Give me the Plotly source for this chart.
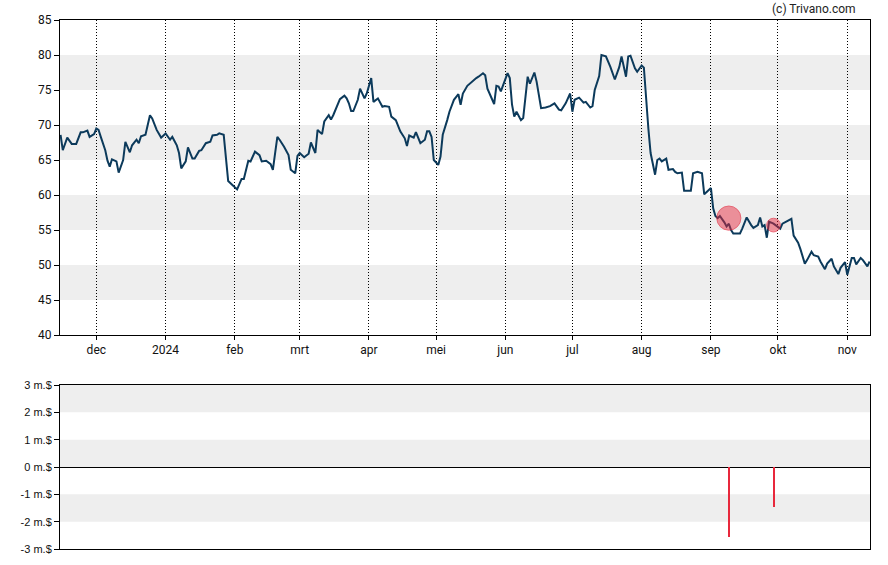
import plotly.graph_objects as go

# ---------------- data ----------------
dates = [
    "2023-11-15", "2023-11-16", "2023-11-18", "2023-11-20", "2023-11-22", "2023-11-24", "2023-11-25", "2023-11-27", "2023-11-28", "2023-11-30",
    "2023-12-01", "2023-12-02", "2023-12-03", "2023-12-05", "2023-12-06", "2023-12-07", "2023-12-08", "2023-12-10", "2023-12-11", "2023-12-13",
    "2023-12-14", "2023-12-16", "2023-12-17", "2023-12-19", "2023-12-20", "2023-12-21", "2023-12-23", "2023-12-24", "2023-12-25", "2023-12-26",
    "2023-12-28", "2023-12-30",
    "2024-01-01", "2024-01-03", "2024-01-04", "2024-01-06", "2024-01-07", "2024-01-08", "2024-01-10", "2024-01-11", "2024-01-13", "2024-01-14",
    "2024-01-16", "2024-01-17", "2024-01-19", "2024-01-21", "2024-01-22", "2024-01-24", "2024-01-25", "2024-01-27", "2024-01-28", "2024-01-29",
    "2024-01-31",
    "2024-02-02", "2024-02-04", "2024-02-05", "2024-02-07", "2024-02-08", "2024-02-10", "2024-02-12", "2024-02-13", "2024-02-15", "2024-02-17",
    "2024-02-18", "2024-02-19", "2024-02-20", "2024-02-21", "2024-02-23", "2024-02-25", "2024-02-26", "2024-02-28", "2024-02-29",
    "2024-03-01", "2024-03-03", "2024-03-05", "2024-03-06", "2024-03-08", "2024-03-09", "2024-03-11", "2024-03-12", "2024-03-14", "2024-03-15",
    "2024-03-16", "2024-03-18", "2024-03-19", "2024-03-21", "2024-03-22", "2024-03-23", "2024-03-24", "2024-03-25", "2024-03-27", "2024-03-28",
    "2024-03-30", "2024-03-31",
    "2024-04-02", "2024-04-03", "2024-04-05", "2024-04-07", "2024-04-08", "2024-04-10", "2024-04-11", "2024-04-13", "2024-04-14", "2024-04-15",
    "2024-04-17", "2024-04-18", "2024-04-19", "2024-04-21", "2024-04-22", "2024-04-24", "2024-04-26", "2024-04-27", "2024-04-28", "2024-04-29",
    "2024-04-30",
    "2024-05-02", "2024-05-03", "2024-05-04", "2024-05-06", "2024-05-07", "2024-05-09", "2024-05-11", "2024-05-12", "2024-05-13", "2024-05-15",
    "2024-05-16", "2024-05-18", "2024-05-19", "2024-05-20", "2024-05-22", "2024-05-23", "2024-05-24", "2024-05-27", "2024-05-28", "2024-05-29",
    "2024-05-30",
    "2024-06-02", "2024-06-03", "2024-06-04", "2024-06-05", "2024-06-06", "2024-06-07", "2024-06-08", "2024-06-09", "2024-06-11", "2024-06-12",
    "2024-06-14", "2024-06-15", "2024-06-17", "2024-06-19", "2024-06-21", "2024-06-23", "2024-06-25", "2024-06-26", "2024-06-28", "2024-06-30",
    "2024-07-01", "2024-07-02", "2024-07-04", "2024-07-06", "2024-07-07", "2024-07-09", "2024-07-10", "2024-07-11", "2024-07-13", "2024-07-14",
    "2024-07-16", "2024-07-18", "2024-07-20", "2024-07-22", "2024-07-23", "2024-07-25", "2024-07-26", "2024-07-27", "2024-07-29", "2024-07-30",
    "2024-08-01", "2024-08-02", "2024-08-03", "2024-08-04", "2024-08-05", "2024-08-06", "2024-08-07", "2024-08-08", "2024-08-09", "2024-08-10",
    "2024-08-12", "2024-08-13", "2024-08-15", "2024-08-16", "2024-08-17", "2024-08-19", "2024-08-20", "2024-08-23", "2024-08-24", "2024-08-26",
    "2024-08-28", "2024-08-29", "2024-08-31",
    "2024-09-01", "2024-09-02", "2024-09-03", "2024-09-04", "2024-09-05", "2024-09-07", "2024-09-08", "2024-09-09", "2024-09-10", "2024-09-11",
    "2024-09-14", "2024-09-15", "2024-09-17", "2024-09-19", "2024-09-20", "2024-09-22", "2024-09-23", "2024-09-24", "2024-09-25", "2024-09-26",
    "2024-09-27", "2024-09-29", "2024-09-30",
    "2024-10-02", "2024-10-03", "2024-10-05", "2024-10-07", "2024-10-08", "2024-10-10", "2024-10-11", "2024-10-13", "2024-10-14", "2024-10-16",
    "2024-10-17", "2024-10-19", "2024-10-20", "2024-10-22", "2024-10-23", "2024-10-25", "2024-10-26", "2024-10-28", "2024-10-29", "2024-10-31",
    "2024-11-01", "2024-11-02", "2024-11-03", "2024-11-04", "2024-11-05", "2024-11-07", "2024-11-08", "2024-11-10", "2024-11-11",
]

prices = [
    68.6, 66.4, 68.2, 67.3, 67.3, 68.95, 68.95, 69.2, 68.3, 68.7,
    69.5, 69.3, 68.3, 66.4, 64.9, 64.05, 65.1, 64.8, 63.2, 65.0,
    67.6, 66.1, 67.1, 67.9, 67.4, 68.4, 68.6, 70.2, 71.4, 70.95,
    69.3, 68.2, 68.8, 67.9, 68.3, 67.1, 66.0, 63.8, 64.8, 66.8,
    65.2, 65.2, 66.3, 66.4, 67.4, 67.6, 68.5, 68.6, 68.8, 68.6,
    65.0, 62.0, 61.4, 60.8, 62.3, 62.3, 64.9, 64.8, 66.2, 65.7,
    64.8, 64.9, 64.4, 63.6, 66.0, 68.3, 67.9, 66.9, 65.7, 63.6,
    63.1, 65.6, 66.0, 65.4, 65.9, 67.5, 66.0, 69.3, 68.7, 70.5,
    71.4, 70.8,
    71.4, 73.1, 73.7, 74.2, 73.8, 73.1, 72.0, 72.0, 73.6, 75.2,
    73.8, 74.5, 76.7, 73.3, 73.8, 72.6, 72.7, 72.6, 71.2, 70.7,
    69.8, 69.1, 68.1, 67.0, 68.5, 68.2, 69.0, 67.4, 67.9, 69.1,
    69.1, 68.3, 65.0, 64.3, 65.5, 68.6, 70.7, 71.9, 73.6, 74.4,
    72.9, 74.5, 75.6, 75.9, 76.5, 76.7, 76.9, 77.4, 77.1, 75.2,
    73.0, 75.6, 75.5, 74.8, 77.4, 76.7, 72.9, 71.2, 71.9, 71.2,
    70.7, 71.0, 76.9, 75.9, 77.5, 76.2, 72.4, 72.5, 72.7, 73.1,
    72.2, 72.1, 73.1, 74.5, 71.9, 73.6, 73.9, 73.2, 73.3, 72.5,
    72.7, 75.0, 77.0,
    80.0, 79.8, 78.3, 76.5, 78.3, 79.8, 76.9, 79.8, 79.9, 78.1,
    77.6, 78.5, 78.2, 73.6, 69.5, 66.0, 64.3, 62.9, 65.0, 65.2,
    64.8, 65.2, 63.6, 63.7, 63.3, 63.1, 63.2, 60.6, 60.6, 63.1,
    63.3, 63.1, 60.1, 60.7, 61.0, 58.1, 57.0, 56.7, 57.0, 56.1,
    55.5, 55.9, 55.0, 54.5, 54.5, 55.2, 56.8, 55.7, 55.3, 55.7,
    56.8, 55.5, 55.7, 53.9, 56.2, 55.9, 55.7, 55.2, 55.9, 56.3,
    56.6, 54.2, 53.2, 52.3, 50.2, 50.7, 51.9, 51.4, 51.2, 50.5,
    49.4, 50.2, 50.9, 49.8, 48.7, 49.6, 50.4, 48.6, 49.8, 51.0,
    51.0, 50.1, 51.0, 50.7, 49.8, 50.5,
]

# insider transactions (sales, in million $)
trade_dates = ["2024-09-09", "2024-09-29"]
trade_prices = [56.7, 55.7]
trade_values = [-2.57, -1.46]

month_ticks = ["2023-12-01", "2024-01-01", "2024-02-01", "2024-03-01", "2024-04-01", "2024-05-01",
               "2024-06-01", "2024-07-01", "2024-08-01", "2024-09-01", "2024-10-01", "2024-11-01"]
month_labels = ["dec", "2024", "feb", "mrt", "apr", "mei", "jun", "jul", "aug", "sep", "okt", "nov"]

price_ticks = [40, 45, 50, 55, 60, 65, 70, 75, 80, 85]
flow_ticks = [-3, -2, -1, 0, 1, 2, 3]
flow_labels = ["-3 m.$", "-2 m.$", "-1 m.$", "0 m.$", "1 m.$", "2 m.$", "3 m.$"]

price_bands = [(45, 50), (55, 60), (65, 70), (75, 80)]
flow_bands = [(2, 3), (0, 1), (-2, -1)]

# ---------------- figure ----------------
LINE = "#0c3a5b"
RED = "#e8283c"
BAND = "#eeeeee"

fig = go.Figure()

fig.add_trace(go.Scatter(
    x=dates, y=prices, mode="lines",
    line=dict(color=LINE, width=2),
    xaxis="x", yaxis="y", hoverinfo="skip",
))

fig.add_trace(go.Scatter(
    x=trade_dates, y=trade_prices, mode="markers",
    marker=dict(size=[9.4 * abs(v) for v in trade_values],
                color="rgba(232,40,60,0.68)",
                line=dict(color="rgba(226,36,56,0.9)", width=1)),
    xaxis="x", yaxis="y", hoverinfo="skip",
))

fig.add_trace(go.Bar(
    x=trade_dates, y=trade_values,
    marker=dict(color=RED, line=dict(width=0)),
    width=0.9 * 86400000,
    xaxis="x2", yaxis="y2", hoverinfo="skip",
))

shapes = []
for lo, hi in price_bands:
    shapes.append(dict(type="rect", xref="x domain", yref="y", x0=0, x1=1, y0=lo, y1=hi,
                       fillcolor=BAND, line=dict(width=0), layer="below"))
for lo, hi in flow_bands:
    shapes.append(dict(type="rect", xref="x2 domain", yref="y2", x0=0, x1=1, y0=lo, y1=hi,
                       fillcolor=BAND, line=dict(width=0), layer="below"))

top_font = dict(family="Roboto, Arial, sans-serif", size=12, color="#111111")
bottom_font = dict(family="Liberation Sans, Arial, sans-serif", size=11, color="#111111")

fig.update_layout(
    width=888, height=565,
    margin=dict(l=60, r=18, t=20, b=16, autoexpand=False),
    paper_bgcolor="white", plot_bgcolor="white",
    showlegend=False,
    hovermode=False,
    bargap=0,
    shapes=shapes,
    xaxis=dict(
        domain=[0, 1], anchor="y", type="date", automargin=False,
        range=["2023-11-14 18:00", "2024-11-11 04:00"],
        tickmode="array", tickvals=month_ticks, ticktext=month_labels,
        ticks="outside", ticklen=4, tickcolor="black", tickwidth=1,
        showline=True, linecolor="black", linewidth=1, mirror=True,
        showgrid=True, gridcolor="black", gridwidth=1, griddash="1px,2px",
        tickfont=top_font, zeroline=False,
    ),
    yaxis=dict(
        domain=[0.4045, 1], anchor="x", automargin=False,
        range=[40, 85], tickmode="array", tickvals=price_ticks,
        ticks="outside", ticklen=5, tickcolor="black",
        showline=True, linecolor="black", linewidth=1, mirror=True,
        showgrid=False, zeroline=False, tickfont=top_font,
    ),
    xaxis2=dict(
        domain=[0, 1], anchor="y2", type="date", matches="x", automargin=False,
        showticklabels=False, ticks="",
        showline=True, linecolor="black", linewidth=1, mirror=True,
        showgrid=False, zeroline=False,
    ),
    yaxis2=dict(
        domain=[0, 0.31], anchor="x2", automargin=False,
        range=[-3, 3], tickmode="array", tickvals=flow_ticks, ticktext=flow_labels,
        ticks="outside", ticklen=5, tickcolor="black",
        showline=True, linecolor="black", linewidth=1, mirror=True,
        showgrid=False, zeroline=True, zerolinecolor="black", zerolinewidth=1,
        tickfont=bottom_font,
    ),
    annotations=[dict(
        text="(c) Trivano.com", xref="paper", yref="paper",
        x=0.985, y=1.021, xanchor="right", yanchor="middle",
        showarrow=False, font=dict(family="Roboto, Arial, sans-serif", size=12, color="#222222"),
    )],
)

fig.write_html("out.html")
